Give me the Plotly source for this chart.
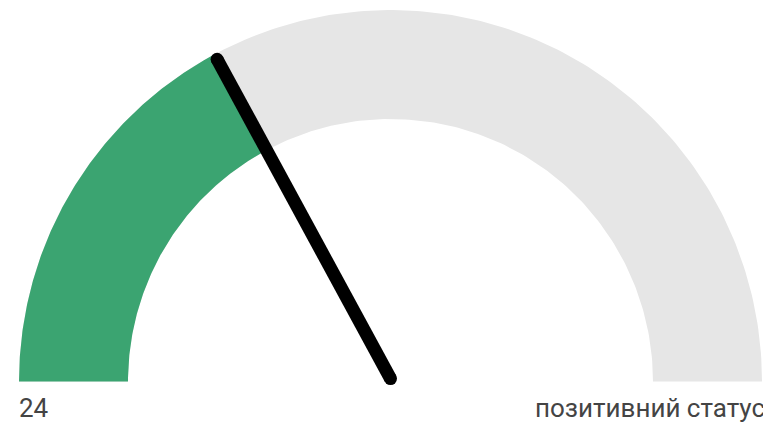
import numpy as np
import plotly.graph_objects as go

# Gauge data
value = 24
gauge_min = 0
gauge_max = 70
value_label = "24"
status_label = "позитивний статус"

GREEN = "#3ba471"
TRACK = "#e6e6e6"
NEEDLE = "#000000"
TEXT = "#444444"

R_OUT = 1.0
R_IN = 262.5 / 371.5


def arc_band(frac_start, frac_end, n=200):
    """Closed polygon of an annular sector; fractions run left (0) to right (1)."""
    a0 = np.pi * (1 - frac_start)
    a1 = np.pi * (1 - frac_end)
    t = np.linspace(a0, a1, n)
    xs = np.concatenate([R_OUT * np.cos(t), R_IN * np.cos(t[::-1])])
    ys = np.concatenate([R_OUT * np.sin(t), R_IN * np.sin(t[::-1])])
    return np.append(xs, xs[0]), np.append(ys, ys[0])


frac = (value - gauge_min) / (gauge_max - gauge_min)

fig = go.Figure()

# background track
tx, ty = arc_band(0, 1)
fig.add_trace(go.Scatter(x=tx, y=ty, fill="toself", fillcolor=TRACK,
                         line=dict(width=0), mode="lines", hoverinfo="skip"))

# value band
gx, gy = arc_band(0, frac)
fig.add_trace(go.Scatter(x=gx, y=gy, fill="toself", fillcolor=GREEN,
                         line=dict(width=0), mode="lines", hoverinfo="skip"))

# needle with rounded ends
ang = np.pi * (1 - frac)
needle_len = 0.985
nx = [0.0, needle_len * np.cos(ang)]
ny = [0.008, needle_len * np.sin(ang)]
fig.add_trace(go.Scatter(x=nx, y=ny, mode="lines+markers",
                         line=dict(color=NEEDLE, width=13),
                         marker=dict(color=NEEDLE, size=13),
                         hoverinfo="skip"))

px = 371.5  # pixels per unit radius
fig.add_annotation(x=-373.5 / px, y=-26 / px, xref="x", yref="y",
                   text=value_label, showarrow=False, xanchor="left", yanchor="middle",
                   font=dict(family="Roboto", size=26, color=TEXT))
fig.add_annotation(x=142 / px, y=-26 / px, xref="x", yref="y",
                   text=status_label, showarrow=False, xanchor="left", yanchor="middle",
                   font=dict(family="Roboto", size=26, color=TEXT))

fig.update_layout(
    width=763, height=423,
    margin=dict(l=0, r=0, t=0, b=0),
    paper_bgcolor="white", plot_bgcolor="white",
    showlegend=False,
    xaxis=dict(range=[-390.5 / px, 372.5 / px], visible=False, fixedrange=True),
    yaxis=dict(range=[-41.5 / px, 381.5 / px], visible=False, fixedrange=True),
)

fig.write_html("out.html")
